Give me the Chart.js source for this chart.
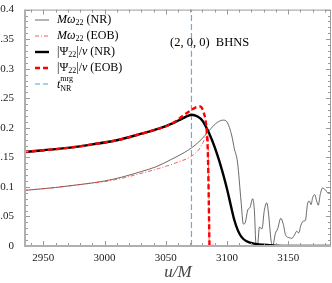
<!DOCTYPE html>
<html>
<head>
  <meta charset="UTF-8">
  <title>BHNS (2,0,0)</title>
  <style>
    body {
      margin: 0;
      padding: 0;
      overflow: hidden;
      background: #fff;
    }

    #chart-container {
      width: 332px;
      height: 283px;
    }
  </style>
  <script src="https://cdn.jsdelivr.net/npm/chart.js"></script>
</head>
<body>
  <div id="chart-container">
    <canvas id="chart"></canvas>
  </div>

  <script>
    // M*omega_22 (NR)
    var uOmegaNR = [2934, 2960, 2980, 3000, 3015, 3030, 3042, 3055, 3065, 3071, 3077, 3082, 3087, 3092, 3097, 3100, 3104, 3106,
      3108.6, 3111.5, 3113.4, 3115, 3117, 3118.8, 3121, 3122.4, 3123.7, 3125, 3126.5, 3128.6, 3130.5, 3132.5, 3134, 3136,
      3137.4, 3139.5, 3141.4, 3144, 3146, 3148, 3151, 3153, 3155, 3157, 3158.6, 3160.4, 3162.4, 3164, 3166, 3167.3,
      3168.7, 3170, 3171.7, 3173.3, 3174.6, 3176.2, 3178, 3180.4, 3182.3, 3185];
    var omegaNR = [0.094, 0.099, 0.104, 0.110, 0.117, 0.126, 0.134, 0.147, 0.158, 0.166, 0.176, 0.187, 0.199, 0.209, 0.213, 0.210, 0.186, 0.165,
      0.142, 0.076, 0.037, 0.040, 0.061, 0.065, 0.080, 0.060, 0.004, 0.002, 0.032, 0.029, 0.060, 0.073, 0.054, 0.010,
      0.000, 0.021, 0.029, 0.047, 0.037, 0.018, 0.014, 0.013, 0.018, 0.025, 0.022, 0.035, 0.042, 0.043, 0.073, 0.076,
      0.070, 0.082, 0.087, 0.076, 0.069, 0.087, 0.098, 0.095, 0.090, 0.091];

    // M*omega_22 (EOB)
    var uOmegaEOB = [2934, 2960, 2980, 3000, 3015, 3030, 3044, 3060, 3071, 3078, 3082, 3084.3, 3085, 3085.6, 3087];
    var omegaEOB = [0.094, 0.099, 0.104, 0.109, 0.115, 0.123, 0.131, 0.142, 0.152, 0.166, 0.183, 0.200, 0.100, 0.000, 0.000];

    // |Psi_22|/nu (NR)
    var uAmpNR = [2934, 2950, 2970, 2990, 3010, 3030, 3045, 3055, 3063, 3068, 3071, 3076, 3080, 3084, 3088, 3092, 3096, 3100,
      3103, 3106, 3109, 3112, 3116, 3122, 3130, 3140, 3150, 3185];
    var ampNR = [0.159, 0.162, 0.166, 0.172, 0.179, 0.190, 0.199, 0.207, 0.215, 0.220, 0.222, 0.219, 0.212, 0.197, 0.178, 0.155, 0.128, 0.097,
      0.070, 0.044, 0.026, 0.015, 0.008, 0.004, 0.002, 0.0005, 0.000, 0.000];

    // |Psi_22|/nu (EOB)
    var uAmpEOB = [2934, 2950, 2970, 2990, 3010, 3030, 3045, 3055, 3060, 3065, 3071, 3075, 3078, 3081, 3083, 3084, 3084.6,
      3085.2, 3085.8, 3089];
    var ampEOB = [0.159, 0.162, 0.166, 0.172, 0.179, 0.190, 0.199, 0.207, 0.214, 0.222, 0.230, 0.235, 0.236, 0.226, 0.205, 0.178, 0.140,
      0.070, 0.000, 0.000];

    // NR merger time
    var tMergerNR = 3071;

    var xTicks = [2950, 3000, 3050, 3100, 3150];
    var yTicks = [0, 0.05, 0.1, 0.15, 0.2, 0.25, 0.3, 0.35, 0.4];

    function toPoints(xs, ys) {
      return xs.map(function (x, i) { return { x: x, y: ys[i] }; });
    }

    var serif = '"Liberation Serif", "DejaVu Serif", serif';

    // frame with inward ticks, like the original figure
    var framePlugin = {
      id: 'frame',
      afterDatasetsDraw: function (chart) {
        var ctx = chart.ctx;
        var a = chart.chartArea;
        var xs = chart.scales.x, ys = chart.scales.y;
        ctx.save();
        ctx.strokeStyle = '#9a9a9a';
        ctx.lineWidth = 1;
        var v, p, major;
        for (v = 2940; v <= 3180; v += 10) {
          p = Math.round(xs.getPixelForValue(v)) + 0.5;
          major = xTicks.indexOf(v) >= 0;
          var L = major ? 5 : 3;
          ctx.beginPath();
          ctx.moveTo(p, a.bottom); ctx.lineTo(p, a.bottom - L);
          ctx.moveTo(p, a.top); ctx.lineTo(p, a.top + L);
          ctx.stroke();
        }
        for (var k = 0; k <= 40; k++) {
          v = k / 100;
          p = Math.round(ys.getPixelForValue(v)) + 0.5;
          major = k % 5 === 0;
          var L2 = major ? 5 : 3;
          ctx.beginPath();
          ctx.moveTo(a.left, p); ctx.lineTo(a.left + L2, p);
          ctx.moveTo(a.right, p); ctx.lineTo(a.right - L2, p);
          ctx.stroke();
        }
        ctx.strokeRect(a.left + 0.5, a.top + 0.5, a.right - a.left - 1, a.bottom - a.top - 1);
        ctx.lineWidth = 2;
        ctx.strokeStyle = '#b0b0b0';
        ctx.beginPath();
        ctx.moveTo(a.left, a.top); ctx.lineTo(a.left, a.bottom); ctx.lineTo(a.right, a.bottom);
        ctx.stroke();

        // annotation
        ctx.fillStyle = '#000';
        ctx.font = '12.5px ' + serif;
        ctx.textBaseline = 'middle';
        ctx.textAlign = 'left';
        ctx.fillText('(2, 0, 0)  BHNS', 170, 43);

        // axis title
        ctx.fillStyle = '#444';
        ctx.textAlign = 'center';
        ctx.font = 'italic 17px ' + serif;
        ctx.fillText('u/M', 178, 273);

        drawLegend(ctx);
        ctx.restore();
      }
    };

    function seg(ctx, text, x, y, style, size) {
      ctx.font = (style || '') + ' ' + (size || 11) + 'px ' + serif;
      ctx.fillText(text, x, y);
      return x + ctx.measureText(text).width;
    }

    function drawLegend(ctx) {
      var rows = [
        { y: 20, color: '#444', w: 0.8, dash: [] },
        { y: 36, color: '#ff3030', w: 0.8, dash: [4, 2, 1, 2] },
        { y: 52, color: '#000', w: 2.4, dash: [] },
        { y: 68, color: '#ff0000', w: 2.4, dash: [5, 3] },
        { y: 84, color: '#a8d0ea', w: 2, dash: [5, 3] }
      ];
      ctx.textBaseline = 'middle';
      ctx.textAlign = 'left';
      rows.forEach(function (r, i) {
        ctx.save();
        ctx.strokeStyle = r.color;
        ctx.lineWidth = r.w;
        ctx.setLineDash(r.dash);
        ctx.beginPath();
        ctx.moveTo(35, r.y); ctx.lineTo(49, r.y);
        ctx.stroke();
        ctx.restore();
        ctx.fillStyle = '#000';
        var x = 57, y = r.y;
        if (i < 2) {
          x = seg(ctx, 'Mω', x, y, 'italic', 12);
          x = seg(ctx, '22', x, y + 3, '', 8);
          seg(ctx, i === 0 ? ' (NR)' : ' (EOB)', x, y, '', 12);
        } else if (i < 4) {
          x = seg(ctx, '|Ψ', x, y, '', 12);
          x = seg(ctx, '22', x, y + 3, '', 8);
          x = seg(ctx, '|/', x, y, '', 12);
          x = seg(ctx, 'ν', x, y, 'italic', 12);
          seg(ctx, i === 2 ? ' (NR)' : ' (EOB)', x, y, '', 12);
        } else {
          x = seg(ctx, 't', x, y + 1, 'italic', 12);
          seg(ctx, 'mrg', x, y - 5, '', 8);
          seg(ctx, 'NR', x, y + 5, '', 8);
        }
      });
    }

    var ctx = document.getElementById('chart').getContext('2d');
    var chart = new Chart(ctx, {
      type: 'line',
      data: {
        datasets: [
          {
            label: '|Ψ22|/ν (EOB)',
            data: toPoints(uAmpEOB, ampEOB),
            borderColor: '#ff0000',
            borderWidth: 2.4,
            borderDash: [5, 3],
            order: 0
          },
          {
            label: '|Ψ22|/ν (NR)',
            data: toPoints(uAmpNR, ampNR),
            borderColor: '#000',
            borderWidth: 2.4,
            order: 1
          },
          {
            label: 'Mω22 (EOB)',
            data: toPoints(uOmegaEOB, omegaEOB),
            borderColor: '#ff3030',
            borderWidth: 0.8,
            borderDash: [4, 2, 1, 2],
            order: 2
          },
          {
            label: 'Mω22 (NR)',
            data: toPoints(uOmegaNR, omegaNR),
            borderColor: '#444',
            borderWidth: 0.8,
            order: 3
          },
          {
            label: 't_NR^mrg',
            data: [{ x: tMergerNR, y: 0 }, { x: tMergerNR, y: 0.4 }],
            borderColor: 'rgb(110, 170, 220)',
            borderWidth: 1.2,
            borderDash: [6, 3],
            order: 4
          }
        ]
      },
      options: {
        responsive: true,
        maintainAspectRatio: false,
        animation: false,
        events: [],
        layout: { padding: { top: 4, right: 1, left: 0, bottom: 0 } },
        elements: {
          point: { radius: 0 },
          line: { fill: false, cubicInterpolationMode: 'monotone' }
        },
        plugins: {
          legend: { display: false },
          tooltip: { enabled: false }
        },
        scales: {
          x: {
            type: 'linear',
            min: 2935,
            max: 3185,
            grid: { display: false, drawTicks: false },
            border: { display: false },
            afterBuildTicks: function (scale) {
              scale.ticks = xTicks.map(function (v) { return { value: v }; });
            },
            afterFit: function (scale) { scale.height = 37; },
            ticks: {
              color: '#222',
              font: { family: serif, size: 11 },
              padding: 6,
              maxRotation: 0,
              callback: function (v) { return String(v); }
            }
          },
          y: {
            min: 0,
            max: 0.4,
            grid: { display: false },
            border: { display: false },
            afterBuildTicks: function (scale) {
              scale.ticks = yTicks.map(function (v) { return { value: v }; });
            },
            afterFit: function (scale) { scale.width = 25; },
            ticks: {
              color: '#222',
              font: { family: serif, size: 11 },
              padding: 3,
              callback: function (v) { return String(Math.round(v * 100) / 100); }
            }
          }
        }
      },
      plugins: [framePlugin]
    });
  </script>
</body>
</html>
